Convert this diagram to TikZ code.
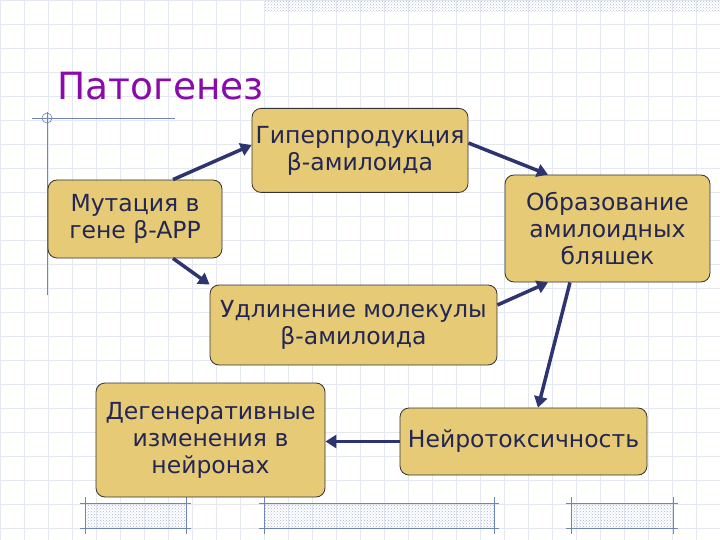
\documentclass[tikz,border=0pt]{standalone}
\usepackage{fontspec}
\setmainfont{DejaVu Sans}
\usetikzlibrary{arrows.meta,patterns}
\definecolor{boxfill}{HTML}{E6CA76}
\definecolor{arr}{HTML}{2E3470}
\definecolor{ttl}{HTML}{8A0AAA}
\definecolor{gridc}{HTML}{E4E8F0}
\definecolor{deco}{HTML}{6F84B8}
\begin{document}
\begin{tikzpicture}[x=1pt,y=-1pt,
  box/.style={draw=black!80,fill=boxfill,rounded corners=9pt,line width=0.8pt,inner sep=0pt,align=center,text=arr!75!black,font=\fontsize{23.5}{27}\selectfont},
  conn/.style={draw=arr,line width=3.5pt,-{Triangle[length=11pt,width=13pt]}},
  band/.style={draw=deco,line width=0.6pt,pattern=crosshatch dots,pattern color=deco!60}]
\useasboundingbox (0,0) rectangle (720,540);
\fill[white] (0,0) rectangle (720,540);
\foreach \i in {0,24,...,720} \draw[gridc,line width=0.6pt] (\i,0) -- (\i,540);
\foreach \j in {0,24,...,540} \draw[gridc,line width=0.6pt] (0,\j) -- (720,\j);
% decorations
\fill[pattern=crosshatch dots,pattern color=deco!50] (265,0) rectangle (720,12);
\draw[deco,line width=0.6pt] (32,118) -- (175,118);
\draw[deco,line width=0.6pt] (47,112) -- (47,295);
\draw[deco,line width=0.6pt] (47,118) circle (5);
\foreach \a/\b in {85/186,264/494,571/673}{
  \path[band] (\a,503) rectangle (\b,528);
  \draw[deco,line width=0.6pt] (\a-5,503) -- (\b+5,503) (\a-5,528) -- (\b+5,528)
    (\a,497) -- (\a,534) (\b,497) -- (\b,534);
}
\node[text=ttl,font=\fontsize{37.5}{40}\selectfont,anchor=west] (title) at (54,86) {Патогенез};
\node[box,minimum width=174pt,minimum height=78pt] (mut) at (135,219) {Мутация в\\гене β-APP};
\node[box,minimum width=216pt,minimum height=84pt,anchor=north] (hyp) at (360,108) {Гиперпродукция\\β-амилоида};
\node[box,minimum width=205pt,minimum height=107pt] (obr) at (607.5,228.5) {Образование\\амилоидных\\бляшек};
\node[box,minimum width=287pt,minimum height=80pt] (udl) at (353.5,325) {Удлинение молекулы\\β-амилоида};
\node[box,minimum width=229pt,minimum height=114pt] (deg) at (210.5,440) {Дегенеративные\\изменения в\\нейронах};
\node[box,minimum width=247pt,minimum height=67pt] (nei) at (523.5,441.5) {Нейротоксичность};
\draw[conn] (mut.north -| 173,0) -- (hyp.west |- 0,145);
\draw[conn] (hyp.east |- 0,143) -- (obr.north -| 548,0);
\draw[conn] (mut.south -| 173,0) -- (udl.north west);
\draw[conn] (udl.east |- 0,305) -- (obr.south -| 548,0);
\draw[conn] (obr.south -| 570,0) -- (nei.north -| 538,0);
\draw[conn] (nei.west) -- (deg.east |- nei.west);
\end{tikzpicture}
\end{document}
